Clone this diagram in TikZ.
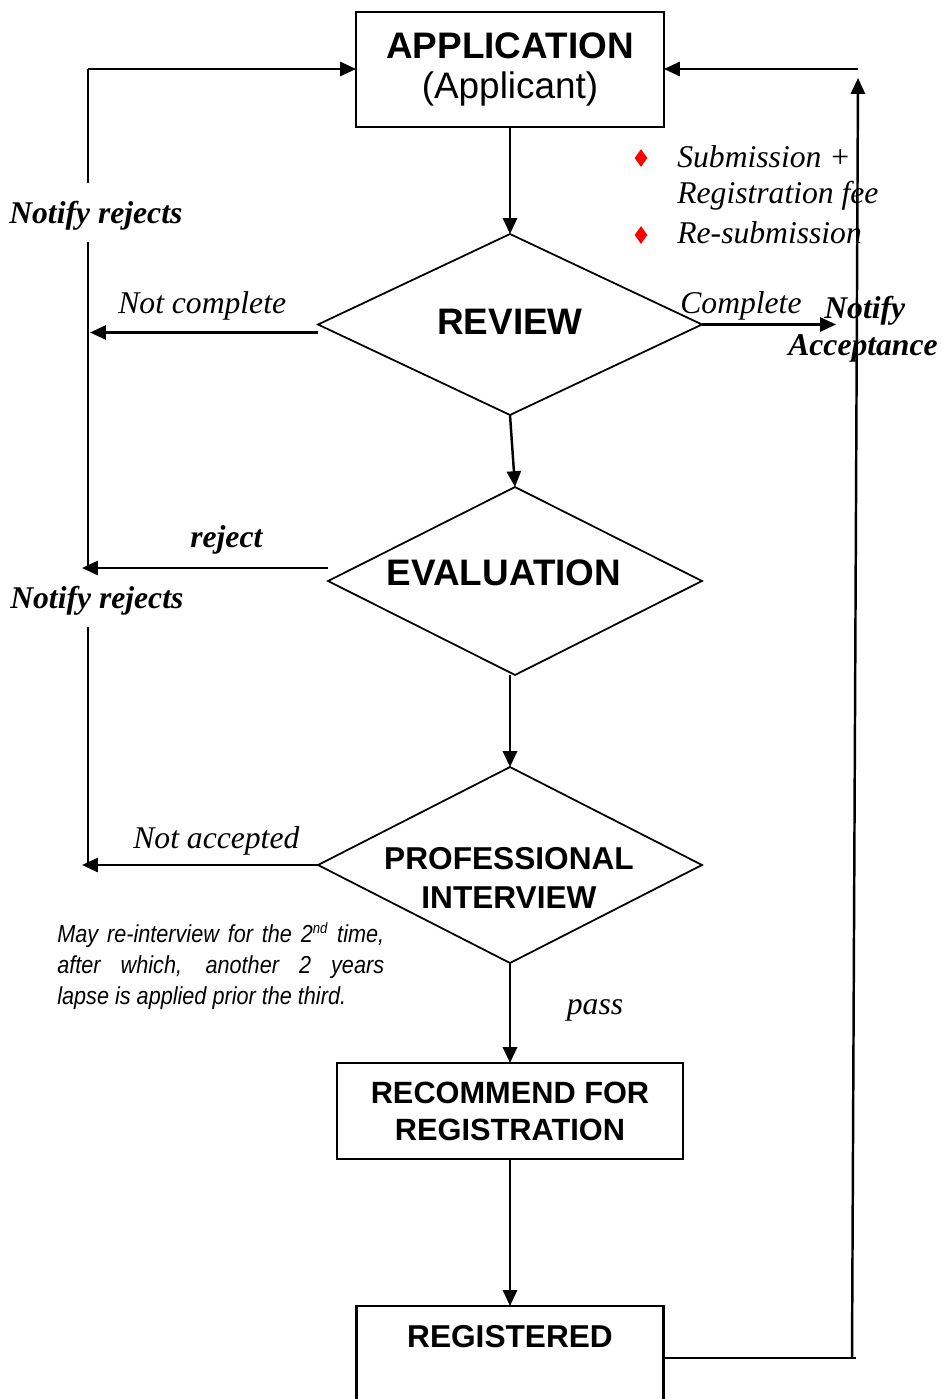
\documentclass[tikz,border=0pt]{standalone}
\usepackage{fontspec}
\setmainfont{Liberation Serif}
\setsansfont{Liberation Sans}
\newfontfamily\narrowsans[FakeStretch=0.88]{Liberation Sans}
\usetikzlibrary{shapes.geometric,arrows.meta}

\newcommand{\ttlfont}{\sffamily\bfseries\fontsize{21}{23}\selectfont}
\newcommand{\subfont}{\sffamily\bfseries\fontsize{18}{22}\selectfont}
\newcommand{\recfont}{\sffamily\bfseries\fontsize{17.5}{21}\selectfont}
\newcommand{\itfont}{\itshape\fontsize{18}{21.6}\selectfont}
\newcommand{\bitfont}{\bfseries\itshape\fontsize{18}{20.5}\selectfont}
\newcommand{\notefont}{\narrowsans\itshape\fontsize{14}{17.6}\selectfont}

\begin{document}
\begin{tikzpicture}[x=0.02cm, y=-0.02cm,
  box/.style={draw, line width=1.2pt, inner sep=0pt, outer sep=0pt, align=center},
  dia/.style={draw, diamond, line width=1pt, inner sep=0pt, outer sep=0pt},
  arr/.style={line width=1.4pt, -{Triangle[length=9pt,width=8pt]}},
  wire/.style={line width=1.4pt},
  lab/.style={font=\itfont, inner sep=0pt},
  blab/.style={font=\bitfont, inner sep=0pt},
  bul/.style={diamond, fill=red, minimum width=0.26cm, minimum height=0.36cm, inner sep=0pt}]
\useasboundingbox (0,0) rectangle (940,1399);
\clip (0,0) rectangle (940,1399);

\node[box, font=\ttlfont, minimum width=6.16cm, minimum height=2.3cm](app) at (510,69.5) {APPLICATION\\{\mdseries (Applicant)}};
\node[dia, minimum width=7.68cm, minimum height=3.62cm](rev) at (510,324.5) {};
\node[font=\ttlfont](revtxt) at (510,322) {REVIEW};
\node[dia, minimum width=7.48cm, minimum height=3.76cm](eva) at (515,581) {};
\node[font=\ttlfont](evatxt) at (504,573) {EVALUATION};
\node[dia, minimum width=7.68cm, minimum height=3.92cm](pint) at (510,865) {};
\node[font=\subfont, align=center](pinttxt) at (509,878) {PROFESSIONAL\\INTERVIEW};
\node[box, font=\recfont, minimum width=6.92cm, minimum height=1.92cm](rec) at (510,1111) {RECOMMEND FOR\\REGISTRATION};
\node[box, minimum width=6.14cm, minimum height=2.48cm](regd) at (510,1368) {};
\node[font=\subfont](regdtxt) at (510,1337) {REGISTERED};

\node[bul](b1) at (641,158) {};
\node[bul](b2) at (641,235) {};
\node[lab, anchor=base west](sub) at (677,167) {Submission +};
\node[lab, anchor=base west](fee) at (677,203) {Registration fee};
\node[lab, anchor=base west](resub) at (677,243) {Re-submission};

\node[blab, anchor=base west](nr1) at (9,223) {Notify rejects};
\node[blab, anchor=base west](nr2) at (10,608) {Notify rejects};
\node[lab, anchor=base west](notc) at (118,313) {Not complete};
\node[blab, anchor=base west](rej) at (190,547) {reject};
\node[lab, anchor=base west](nota) at (133,848) {Not accepted};
\node[lab, anchor=base west](comp) at (680,313) {Complete};
\node[blab, anchor=base west](ntf) at (824,318) {Notify};
\node[blab, anchor=base west](acc) at (788,355) {Acceptance};
\node[lab](pass) at (595,1010) {pass};
\node[font=\notefont, text width=186pt, align=justify, inner sep=0pt, anchor=north west](note) at (57,922)
  {\tolerance=10000 May re-interview for the 2\textsuperscript{\fontsize{8.5}{9}\selectfont nd} time,\linebreak after which, another 2 years\linebreak lapse is applied prior the third.};

\coordinate (lt) at (88,69);
\coordinate (g1a) at (88,183);
\coordinate (g1b) at (88,242);
\coordinate (g2a) at (88,568);
\coordinate (g2b) at (88,627);
\coordinate (lb) at (88,866);
\coordinate (rb) at (852,1358);
\coordinate (rt) at (858,78);
\coordinate (rh) at (858,69);

\draw[arr] (app.south) -- (rev.north);
\draw[arr] (rev.south) -- (eva.north);
\draw[arr] (eva.south -| pint.north) -- (pint.north);
\draw[arr] (pint.south) -- (rec.north);
\draw[arr] (rec.south) -- (regd.north);

\draw[arr] (rev.west) ++(0,8) -- ++(-228,0);
\draw[arr] (eva.west) ++(0,-13) -- ++(-246,0);
\draw[arr] (pint.west) -- ++(-236,0);
\draw[arr] (rev.east) -- ++(134,0);

\draw[arr] (lt) -- (lt -| app.west);
\draw[wire] (lt) -- (g1a);
\draw[wire] (g1b) -- (g2a);
\draw[wire] (g2b) -- (lb);

\draw[wire] (regd.east |- rb) -- (rb) -- ++(4,0);
\draw[arr] (rb) -- (rt);
\draw[arr] (rh) -- (rh -| app.east);
\end{tikzpicture}
\end{document}
